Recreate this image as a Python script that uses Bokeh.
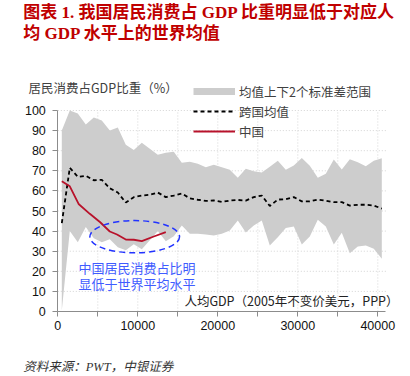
from bokeh.plotting import figure
from bokeh.models import Range1d, FixedTicker, Label, Legend, LegendItem
from bokeh.embed import file_html
from bokeh.resources import INLINE

# ---------------- data ----------------
gdp_pc = [500, 1500, 2500, 3500, 4500, 5500, 6500, 7500, 8500, 9500,
          10500, 11500, 12500, 13500, 14500, 15500, 16500, 17500, 18500, 19500,
          20500, 21500, 22500, 23500, 24500, 25500, 26500, 27500, 28500, 29500,
          30500, 31500, 32500, 33500, 34500, 35500, 36500, 37500, 38500, 39500,
          40500]
band_upper = [90, 100, 98.5, 93, 96.5, 95, 90, 91.5, 83, 80.3,
              84, 81, 78, 79, 79.5, 74, 74.5, 73.5, 71.8, 73,
              71.8, 70.5, 66.5, 71, 69.8, 69.2, 72, 75, 70.5, 72.6,
              76.4, 72.5, 66.5, 68.5, 75.6, 70.6, 75.8, 74.3, 72.3, 75,
              76.3]
band_lower = [0.5, 40, 34.5, 42, 36.5, 34.5, 36, 32, 30.5, 33.5,
              31, 35.5, 40, 35, 37.5, 42.8, 38.7, 38.7, 38.3, 37.8,
              38.7, 40.3, 45.3, 39.3, 42.8, 45.3, 32.8, 37, 41.6, 42.3,
              33.3, 37.3, 45.6, 42.3, 33.3, 39.2, 29, 32.3, 32.8, 31.2,
              26.2]
world_mean = [44, 71.5, 67, 67.5, 65.3, 65.5, 61.3, 59.2, 54.2, 56.9,
              57.7, 58.1, 59.2, 56.9, 57.7, 58.7, 56.3, 55.6, 55, 55.3,
              54.5, 55.2, 55.5, 55.2, 56.9, 57.7, 52.5, 55.7, 55.9, 56.9,
              54.8, 54.8, 55.7, 55.1, 54.4, 54.4, 52.7, 53.1, 53.1, 52.7,
              51.2]
china_gdp_pc = [500, 1500, 2600, 4000, 5300, 6500, 7400, 8500, 9500, 10500, 12000, 13500]
china_share = [64.8, 62.3, 53.5, 48.6, 44.4, 39.8, 38.3, 35.8, 35.7, 35.0, 37.3, 39.5]

x_ticks = [0, 10000, 20000, 30000, 40000]
x_minor_ticks = [5000, 15000, 25000, 35000]
x_grid_ticks = [5000, 10000, 15000, 20000, 25000, 30000, 35000, 40000]
y_ticks = [0, 10, 20, 30, 40, 50, 60, 70, 80, 90, 100]
y_grid_ticks = [10, 20, 30, 40, 50, 60, 70, 80, 90, 100]
x_axis_bounds = (0, 41000)
y_axis_bounds = (0, 100)

title_1 = "图表 1. 我国居民消费占 GDP 比重明显低于对应人"
title_2 = "均 GDP 水平上的世界均值"
y_title = "居民消费占GDP比重（%）"
x_title = "人均GDP（2005年不变价美元，PPP）"
note_1 = "中国居民消费占比明"
note_2 = "显低于世界平均水平"
source_text = "资料来源：PWT，中银证券"
legend_labels = ["均值上下2个标准差范围", "跨国均值", "中国"]

# ---------------- styles ----------------
band_color = "#cdcdcd"
china_color = "#b8122b"
title_color = "#c00000"
note_color = "#3f5cff"
ellipse_color = "#2233ff"
axis_color = "#8c8c8c"
grid_color = "#d4d4d4"
cjk = "Noto Sans CJK SC"
serif_cjk = "Liberation Serif, Noto Sans CJK SC"

# whole canvas is the frame; axes are pinned at x=0 / y=0
p = figure(width=410, height=376, output_backend="svg", toolbar_location=None,
           x_range=Range1d(-7162.5, 44087.5), y_range=Range1d(-32.34, 154.73),
           min_border=0, min_border_left=0, min_border_right=0,
           min_border_top=0, min_border_bottom=0)
p.outline_line_color = None
p.background_fill_color = "white"
p.border_fill_color = "white"
p.xgrid.visible = False
p.ygrid.visible = False

# dotted grid lines limited to the plotting area
p.segment(x0=x_grid_ticks, y0=[y_axis_bounds[0]] * len(x_grid_ticks),
          x1=x_grid_ticks, y1=[y_axis_bounds[1]] * len(x_grid_ticks),
          line_color=grid_color, line_dash="1 2", line_width=1, level="underlay")
p.segment(x0=[x_axis_bounds[0]] * len(y_grid_ticks), y0=y_grid_ticks,
          x1=[x_axis_bounds[1]] * len(y_grid_ticks), y1=y_grid_ticks,
          line_color=grid_color, line_dash="1 2", line_width=1, level="underlay")

band = p.varea(x=gdp_pc, y1=band_lower, y2=band_upper, fill_color=band_color)
mean_r = p.line(gdp_pc, world_mean, line_color="black", line_width=1.8, line_dash="4 3")
china_r = p.line(china_gdp_pc, china_share, line_color=china_color, line_width=1.8)
# legend-only swatch for the band (a single undefined point draws nothing)
band_proxy = p.line(x=[float("nan")], y=[float("nan")], line_color=band_color, line_width=7)

# dashed ellipse highlighting China
p.ellipse(x=[9612], y=[37.2], width=11212, height=16.07, fill_color=None,
          line_color=ellipse_color, line_width=1.5, line_dash="6 4")

# axes
p.xaxis.ticker = FixedTicker(ticks=x_ticks, minor_ticks=x_minor_ticks)
p.yaxis.ticker = FixedTicker(ticks=y_ticks, minor_ticks=[])
p.xaxis.fixed_location = 0
p.yaxis.fixed_location = 0
p.xaxis.bounds = x_axis_bounds
p.yaxis.bounds = y_axis_bounds
for ax in (p.xaxis[0], p.yaxis[0]):
    ax.axis_line_color = axis_color
    ax.major_tick_line_color = axis_color
    ax.minor_tick_line_color = axis_color
    ax.major_tick_out = 5
    ax.major_tick_in = 0
    ax.minor_tick_out = 5
    ax.minor_tick_in = 0
    ax.major_label_text_font = "Liberation Sans"
    ax.major_label_text_font_size = "12.5px"
    ax.major_label_text_color = "#111111"
p.xaxis.major_label_standoff = 5
p.yaxis.major_label_standoff = 7

# legend
legend = Legend(items=[LegendItem(label=legend_labels[0], renderers=[band_proxy]),
                       LegendItem(label=legend_labels[1], renderers=[mean_r]),
                       LegendItem(label=legend_labels[2], renderers=[china_r])],
                location=(193, 235), orientation="vertical",
                border_line_alpha=0, background_fill_alpha=0,
                padding=0, margin=0, spacing=0,
                glyph_width=42, glyph_height=20, label_height=20, label_standoff=4,
                label_text_font=cjk, label_text_font_size="12.5px",
                label_text_color="#404040")
p.add_layout(legend)

def add_label(txt, x, y, size, color, align="left", style="normal", font=cjk):
    p.add_layout(Label(x=x, y=y, text=txt, text_font=font, text_font_size=size,
                       text_color=color, text_align=align, text_baseline="middle",
                       text_font_style=style))

add_label(title_1, -4325, 149.0, "17px", title_color, style="bold", font=serif_cjk)
add_label(title_2, -4325, 138.56, "17px", title_color, style="bold", font=serif_cjk)
add_label(y_title, -3662, 111.6, "12.5px", "#404040")
add_label(x_title, 42587, 5.47, "12.5px", "#222222", align="right")
add_label(note_1, 2587, 22.04, "13px", note_color)
add_label(note_2, 2587, 13.78, "13px", note_color)
add_label(source_text, -4325, -27.71, "12.5px", "#333333", style="italic", font=serif_cjk)

open("out.html", "w").write(file_html(p, INLINE))
